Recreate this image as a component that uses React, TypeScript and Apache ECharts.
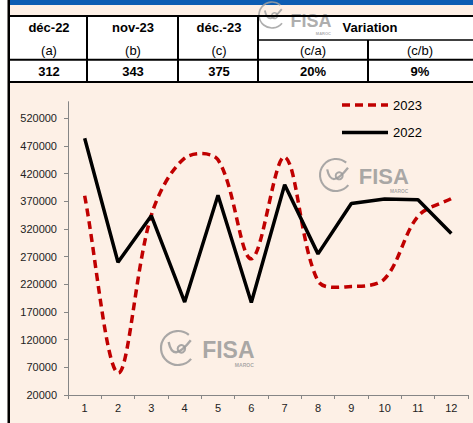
import React, { useEffect, useRef } from 'react';
import * as echarts from 'echarts';

const months = ['1', '2', '3', '4', '5', '6', '7', '8', '9', '10', '11', '12'];
const values2023 = [380000, 60000, 345000, 448000, 445000, 266000, 450000, 226000, 216000, 230000, 343000, 375000];
const values2022 = [484000, 260000, 344000, 188000, 381000, 187000, 400000, 275000, 366000, 374000, 373000, 312000];
const yMin = 20000;
const yMax = 550000;
const yInterval = 50000;

const tableHeaders = ['déc-22', 'nov-23', 'déc.-23'];
const tableSubLabels = ['(a)', '(b)', '(c)', '(c/a)', '(c/b)'];
const tableValues = ['312', '343', '375', '20%', '9%'];
const variationLabel = 'Variation';
const brandName = 'FISA';
const brandSub = 'MAROC';

const FONT = '"Liberation Sans", Arial, sans-serif';
const SMOOTH = 1 / 3;

function logo(cx: number, cy: number, r: number, fontSize: number, color: string, opacity: number, textDy = 0) {
  const ty = cy + r * 0.1 + textDy;
  const z = 5;
  return {
    type: 'group',
    z,
    children: [
      {
        type: 'arc', z,
        shape: { cx, cy, r, startAngle: -Math.PI * 0.28, endAngle: Math.PI * 0.22, clockwise: false },
        style: { stroke: color, lineWidth: r * 0.13, fill: null, opacity },
      },
      {
        type: 'bezierCurve', z,
        shape: { x1: cx - r * 0.55, y1: cy - r * 0.35, cpx1: cx - r * 0.3, cpy1: cy + r * 0.9, x2: cx + r * 0.75, y2: cy - r * 0.45 },
        style: { stroke: color, lineWidth: r * 0.14, fill: null, opacity },
      },
      {
        type: 'circle', z,
        shape: { cx: cx + r * 0.2, cy: cy + r * 0.05, r: r * 0.22 },
        style: { stroke: color, lineWidth: r * 0.12, fill: null, opacity },
      },
      {
        type: 'text', z,
        x: cx + r * 1.42,
        y: ty,
        style: { text: brandName, fontSize, fontWeight: 'bold', fontFamily: FONT, fill: color, opacity, textVerticalAlign: 'middle', textAlign: 'left' },
      },
      {
        type: 'text', z,
        x: cx + r * 1.42 + fontSize * 2.25,
        y: ty + fontSize * 0.66,
        style: { text: brandSub, fontSize: Math.max(4, fontSize * 0.22), fontWeight: 'bold', fontFamily: FONT, fill: color, opacity, textVerticalAlign: 'middle', textAlign: 'right' },
      },
    ],
  };
}

function smoothPath(pts: number[][]): string {
  const n = pts.length;
  const dist = (a: number[], b: number[]) => Math.hypot(b[0] - a[0], b[1] - a[1]);
  const cpNext: number[][] = [];
  const cpPrev: number[][] = [];
  for (let i = 0; i < n; i++) {
    const p = pts[i];
    const prev = pts[Math.max(0, i - 1)];
    const next = pts[Math.min(n - 1, i + 1)];
    const dPrev = dist(prev, p);
    const dNext = dist(p, next);
    const total = dPrev + dNext || 1;
    const vx = next[0] - prev[0];
    const vy = next[1] - prev[1];
    const rNext = dNext / total;
    const rPrev = dPrev / total;
    cpNext.push([p[0] + vx * SMOOTH * rNext, p[1] + vy * SMOOTH * rNext]);
    cpPrev.push([p[0] - vx * SMOOTH * rPrev, p[1] - vy * SMOOTH * rPrev]);
  }
  let d = `M${pts[0][0]},${pts[0][1]}`;
  for (let i = 0; i < n - 1; i++) {
    const c1 = cpNext[i];
    const c2 = cpPrev[i + 1];
    const e = pts[i + 1];
    d += ` C${c1[0]},${c1[1]} ${c2[0]},${c2[1]} ${e[0]},${e[1]}`;
  }
  return d;
}

export default function App() {
  const ref = useRef<HTMLDivElement>(null);

  useEffect(() => {
    if (!ref.current) return;
    const chart = echarts.init(ref.current, undefined, { renderer: 'svg' });

    const colX = [10, 87, 178, 258, 368, 473];
    const textCenters = [49, 133, 219, 313, 420];
    const lineStyle = { stroke: '#000', lineWidth: 2 };
    const graphics: any[] = [
      { type: 'rect', shape: { x: 0, y: 0, width: 7.5, height: 423 }, style: { fill: '#ffffff' }, z: 1 },
      { type: 'rect', shape: { x: 7.5, y: 0, width: 2.5, height: 423 }, style: { fill: '#000000' }, z: 20 },
      { type: 'rect', shape: { x: 10, y: 0, width: 463, height: 5 }, style: { fill: '#0c5db3' }, z: 1 },
      { type: 'rect', shape: { x: 10, y: 16, width: 463, height: 66 }, style: { fill: '#ffffff' }, z: 1 },
      { type: 'line', shape: { x1: 10, y1: 16, x2: 473, y2: 16 }, style: lineStyle, z: 10 },
      { type: 'line', shape: { x1: 258, y1: 40, x2: 473, y2: 40 }, style: { stroke: '#000', lineWidth: 1.5 }, z: 10 },
      { type: 'line', shape: { x1: 10, y1: 59.8, x2: 473, y2: 59.8 }, style: lineStyle, z: 10 },
      { type: 'line', shape: { x1: 10, y1: 82, x2: 473, y2: 82 }, style: lineStyle, z: 10 },
      { type: 'line', shape: { x1: colX[1], y1: 16, x2: colX[1], y2: 82 }, style: lineStyle, z: 10 },
      { type: 'line', shape: { x1: colX[2], y1: 16, x2: colX[2], y2: 82 }, style: lineStyle, z: 10 },
      { type: 'line', shape: { x1: colX[3], y1: 16, x2: colX[3], y2: 82 }, style: lineStyle, z: 10 },
      { type: 'line', shape: { x1: colX[4], y1: 40, x2: colX[4], y2: 82 }, style: lineStyle, z: 10 },
      logo(272, 15, 13, 18, '#a0a0a0', 0.85, 5),
      logo(178, 348, 17, 23, '#9a9a9a', 0.85),
      logo(336, 175, 16, 22, '#9a9a9a', 0.85),
    ];
    tableHeaders.forEach((h, i) => {
      graphics.push({
        type: 'text', x: textCenters[i], y: 27.5, z: 12,
        style: { text: h, fontSize: 13, fontWeight: 'bold', fontFamily: FONT, fill: '#000', textAlign: 'center', textVerticalAlign: 'middle' },
      });
    });
    graphics.push({
      type: 'text', x: 370, y: 27.5, z: 12,
      style: { text: variationLabel, fontSize: 13, fontWeight: 'bold', fontFamily: FONT, fill: '#000', textAlign: 'center', textVerticalAlign: 'middle' },
    });
    tableSubLabels.forEach((s, i) => {
      graphics.push({
        type: 'text', x: textCenters[i], y: 50.5, z: 12,
        style: { text: s, fontSize: 13, fontFamily: FONT, fill: '#000', textAlign: 'center', textVerticalAlign: 'middle' },
      });
    });
    tableValues.forEach((v, i) => {
      graphics.push({
        type: 'text', x: textCenters[i], y: 71, z: 12,
        style: { text: v, fontSize: 13, fontWeight: 'bold', fontFamily: FONT, fill: '#000', textAlign: 'center', textVerticalAlign: 'middle' },
      });
    });

    const dashIcon = 'path://M0,0h8v3.5h-8zM13,0h8v3.5h-8zM26,0h8v3.5h-8zM39,0h7v3.5h-7z';
    const solidIcon = 'path://M0,0h46v3.5h-46z';

    chart.setOption({
      animation: false,
      backgroundColor: '#fdf0e6',
      textStyle: { fontFamily: FONT },
      grid: { left: 68, right: 5, top: 101.7, bottom: 28, containLabel: false },
      legend: {
        orient: 'vertical',
        left: 337,
        top: 93.5,
        itemWidth: 46,
        itemHeight: 14,
        itemGap: 14.6,
        data: [
          { name: '2023', icon: dashIcon },
          { name: '2022', icon: solidIcon },
        ],
        textStyle: { fontSize: 13, color: '#000', fontFamily: FONT },
      },
      xAxis: {
        type: 'category',
        data: months,
        boundaryGap: true,
        axisLine: { lineStyle: { color: '#868686', width: 1 } },
        axisTick: { show: true, length: 4, lineStyle: { color: '#868686' } },
        axisLabel: { color: '#222', fontSize: 11, margin: 7, fontFamily: FONT },
        splitLine: { show: false },
      },
      yAxis: {
        type: 'value',
        min: yMin,
        max: yMax,
        interval: yInterval,
        axisLine: { show: true, lineStyle: { color: '#868686', width: 1 } },
        axisTick: { show: true, length: 4, lineStyle: { color: '#868686' } },
        axisLabel: { color: '#222', fontSize: 11, margin: 11, showMaxLabel: false, fontFamily: FONT, formatter: (v: number) => String(v) },
        splitLine: { show: false },
      },
      graphic: graphics,
      series: [
        {
          name: '2023',
          type: 'custom',
          data: values2023.map((v, i) => [i, v]),
          encode: { x: 0, y: 1 },
          z: 3,
          itemStyle: { color: '#c00000' },
          renderItem: (params: any, api: any) => {
            if (params.dataIndex !== 0) return null;
            const pts = values2023.map((v, i) => api.coord([i, v]));
            return {
              type: 'path',
              shape: { pathData: smoothPath(pts) },
              style: { fill: 'none', stroke: '#c00000', lineWidth: 3.5, lineDash: [8, 5] },
            };
          },
        },
        {
          name: '2022',
          type: 'line',
          data: values2022,
          smooth: false,
          symbol: 'none',
          z: 4,
          lineStyle: { color: '#000000', width: 3.5 },
          itemStyle: { color: '#000000' },
        },
      ],
    });

    return () => chart.dispose();
  }, []);

  return (
    <div
      ref={ref}
      style={{ position: 'absolute', left: 0, top: 0, width: 473, height: 423 }}
    />
  );
}
